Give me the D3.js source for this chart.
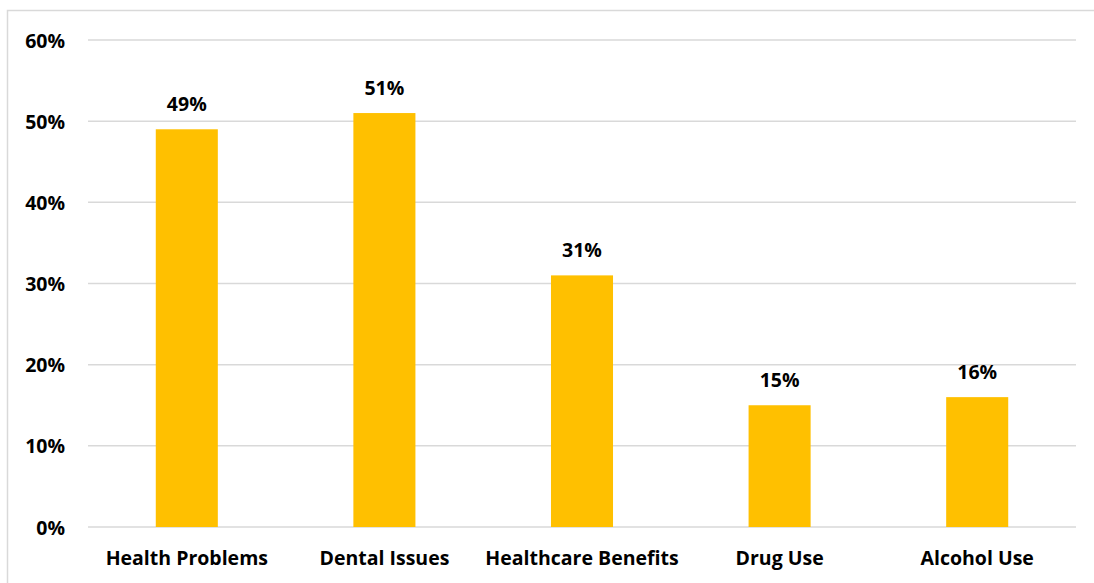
<!DOCTYPE html>
<html>
<head>
<meta charset="utf-8">
<script src="https://cdn.jsdelivr.net/npm/d3@7"></script>
<style>
  body { margin: 0; background: #fff; }
  .canvas { width: 1094px; height: 583px; }
  text { font-family: "Open Sans", "Liberation Sans", sans-serif; font-weight: bold; fill: #000; }
</style>
</head>
<body>
<div class="canvas"></div>
<script>
const categories = ['Health Problems', 'Dental Issues', 'Healthcare Benefits', 'Drug Use', 'Alcohol Use']
const values = [0.49, 0.51, 0.31, 0.15, 0.16]
const yTicks = [0, 0.1, 0.2, 0.3, 0.4, 0.5, 0.6]

const width = 1094
const height = 583

const svg = d3.select('.canvas').append('svg')
    .attr('width', width)
    .attr('height', height)

// chart frame (only top and left edges show inside the window)
svg.append('rect')
    .attr('x', 7.5)
    .attr('y', 10.5)
    .attr('width', width + 20)
    .attr('height', height + 20)
    .attr('fill', 'none')
    .attr('stroke', '#d9d9d9')
    .attr('stroke-width', 1.5)

const plotL = 88, plotR = 1076, plotT = 40, plotB = 527

const x = d3.scaleBand()
    .domain(categories)
    .range([plotL, plotR])
    .paddingInner(0.686)
    .paddingOuter(0.343)

const y = d3.scaleLinear()
    .domain([0, 0.6])
    .range([plotB, plotT])

// gridlines
svg.append('g')
    .selectAll('line')
    .data(yTicks)
    .join('line')
    .attr('x1', plotL)
    .attr('x2', plotR)
    .attr('y1', d => y(d))
    .attr('y2', d => y(d))
    .attr('stroke', '#d9d9d9')
    .attr('stroke-width', 1.5)

// y axis labels
const yAxis = svg.append('g')
    .attr('transform', `translate(${plotL - 23},0)`)
    .call(d3.axisLeft(y).tickValues(yTicks).tickFormat(d3.format('.0%')).tickSize(0).tickPadding(0))
yAxis.select('.domain').remove()
yAxis.selectAll('text')
    .style('font-size', '19.5px')
    .attr('dy', '0.36em')

// bars
svg.append('g')
    .selectAll('rect')
    .data(values)
    .join('rect')
    .attr('x', (d, i) => x(categories[i]))
    .attr('y', d => y(d))
    .attr('width', x.bandwidth())
    .attr('height', d => plotB - y(d))
    .attr('fill', '#ffc000')

// value labels
svg.append('g')
    .selectAll('text')
    .data(values)
    .join('text')
    .attr('x', (d, i) => x(categories[i]) + x.bandwidth() / 2)
    .attr('y', d => y(d) - 18)
    .attr('text-anchor', 'middle')
    .style('font-size', '19.5px')
    .text(d => d3.format('.0%')(d))

// category labels
const xAxis = svg.append('g')
    .attr('transform', `translate(0,${plotB})`)
    .call(d3.axisBottom(x).tickSize(0).tickPadding(0))
xAxis.select('.domain').remove()
xAxis.selectAll('text')
    .style('font-size', '19.5px')
    .attr('dy', null)
    .attr('y', 38)
</script>
</body>
</html>
